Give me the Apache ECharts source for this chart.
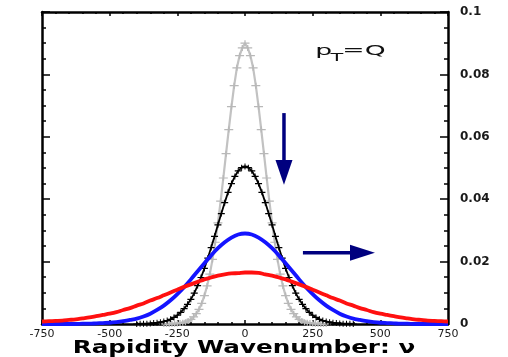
<!DOCTYPE html>
<html>
<head>
<meta charset="utf-8">
<script src="https://cdn.jsdelivr.net/npm/echarts@6/dist/echarts.min.js"></script>
<style>
html,body{margin:0;padding:0;background:#fff;}
#c{width:508px;height:357px;}
</style>
</head>
<body>
<div id="c"></div>
<script>
// ---- data ----
const grayNu = [-300,-290,-280,-270,-260,-250,-240,-230,-220,-210,-200,-190,-180,-170,-160,-150,-140,-130,-120,-110,-100,-90,-80,-70,-60,-50,-40,-30,-20,-10,
  0,10,20,30,40,50,60,70,80,90,100,110,120,130,140,150,160,170,180,190,200,210,220,230,240,250,260,270,280,290,300];
const grayVal = [0,0,0,0.0001,0.0001,0.0002,0.0003,0.0004,0.0006,0.0010,0.0015,0.0023,0.0033,0.0047,0.0066,0.0091,0.0122,0.0160,0.0207,0.0262,0.0324,0.0394,0.0468,0.0546,0.0623,0.0697,0.0764,0.0821,0.0860,0.0885,
  0.0900,0.0885,0.0860,0.0821,0.0764,0.0697,0.0623,0.0546,0.0468,0.0394,0.0324,0.0262,0.0207,0.0160,0.0122,0.0091,0.0066,0.0047,0.0033,0.0023,0.0015,0.0010,0.0006,0.0004,0.0003,0.0002,0.0001,0.0001,0,0,0];

const blackNu = [-400,-387.5,-375,-362.5,-350,-337.5,-325,-312.5,-300,-287.5,-275,-262.5,-250,-237.5,-225,-212.5,-200,-187.5,-175,-162.5,-150,-137.5,-125,-112.5,-100,-87.5,-75,-62.5,-50,-37.5,-25,-12.5,
  0,12.5,25,37.5,50,62.5,75,87.5,100,112.5,125,137.5,150,162.5,175,187.5,200,212.5,225,237.5,250,262.5,275,287.5,300,312.5,325,337.5,350,362.5,375,387.5,400];
const blackVal = [0,0.0001,0.0001,0.0001,0.0002,0.0003,0.0004,0.0006,0.0008,0.0011,0.0015,0.0021,0.0028,0.0037,0.0049,0.0063,0.0079,0.0099,0.0123,0.0149,0.0178,0.0211,0.0245,0.0281,0.0318,0.0354,0.0389,0.0422,0.0450,0.0473,0.0491,0.0501,
  0.0505,0.0501,0.0491,0.0473,0.0450,0.0422,0.0389,0.0354,0.0318,0.0281,0.0245,0.0211,0.0178,0.0149,0.0123,0.0099,0.0079,0.0063,0.0049,0.0037,0.0028,0.0021,0.0015,0.0011,0.0008,0.0006,0.0004,0.0003,0.0002,0.0001,0.0001,0.0001,0];

const nu = [-750,-725,-700,-675,-650,-625,-600,-575,-550,-525,-500,-475,-450,-425,-400,-375,-350,-325,-300,-275,-250,-225,-200,-175,-150,-125,-100,-75,-50,-25,
  0,25,50,75,100,125,150,175,200,225,250,275,300,325,350,375,400,425,450,475,500,525,550,575,600,625,650,675,700,725,750];
const blueVal = [0,0,0,0,0,0,0.0001,0.0001,0.0002,0.0003,0.0004,0.0006,0.0009,0.0013,0.0017,0.0024,0.0033,0.0045,0.0059,0.0076,0.0096,0.0118,0.0143,0.0169,0.0195,0.0220,0.0243,0.0262,0.0277,0.0287,
  0.0290,0.0287,0.0277,0.0262,0.0243,0.0220,0.0195,0.0169,0.0143,0.0118,0.0096,0.0076,0.0059,0.0045,0.0033,0.0024,0.0017,0.0013,0.0009,0.0006,0.0004,0.0003,0.0002,0.0001,0.0001,0,0,0,0,0,0];
const redVal = [0.0008,0.0009,0.0010,0.0011,0.0013,0.0015,0.0018,0.0021,0.0025,0.0029,0.0033,0.0038,0.0045,0.0051,0.0059,0.0066,0.0075,0.0083,0.0092,0.0101,0.0110,0.0119,0.0127,0.0135,0.0143,0.0149,0.0155,0.0159,0.0162,0.0163,
  0.0165,0.0165,0.0164,0.0159,0.0155,0.0149,0.0143,0.0135,0.0127,0.0119,0.0110,0.0101,0.0092,0.0083,0.0075,0.0066,0.0059,0.0051,0.0045,0.0038,0.0033,0.0029,0.0025,0.0021,0.0018,0.0015,0.0013,0.0011,0.0010,0.0009,0.0008];

const xTicks = {min: -750, max: 750, interval: 250};
const yTicks = {min: 0, max: 0.1, interval: 0.02};
const axisTitle = 'Rapidity Wavenumber: \u03bd';

// annotation anchors in data coordinates
const arrowDown = {nu: 144, from: 0.0676, headStart: 0.0526, tip: 0.0446};
const arrowRight = {y: 0.0228, from: 214, headStart: 388, tip: 480};
const ptLabel = {nu: 260, y: 0.0852};

const zip = (xs, ys) => xs.map((x, i) => [x, ys[i]]);
const plus = 'path://M0,2H3V0H4V2H7V3H4V5H3V3H0Z';
const FONT = 'DejaVu Sans';

const chart = echarts.init(document.getElementById('c'), null, {renderer: 'canvas'});

const xCommon = {
  type: 'value', min: xTicks.min, max: xTicks.max, interval: xTicks.interval,
  axisLine: {show: true, onZero: false, lineStyle: {color: '#000', width: 2.5}},
  axisTick: {show: true, inside: true, length: 4, lineStyle: {color: '#000', width: 1.5}},
  minorTick: {show: true, splitNumber: 5, length: 2, lineStyle: {color: '#000', width: 1.5}},
  splitLine: {show: false}
};
const yCommon = {
  type: 'value', min: yTicks.min, max: yTicks.max, interval: yTicks.interval,
  axisLine: {show: true, onZero: false, lineStyle: {color: '#000', width: 2.5}},
  axisTick: {show: true, inside: true, length: 8, lineStyle: {color: '#000', width: 1.5}},
  minorTick: {show: true, splitNumber: 4, length: 4, lineStyle: {color: '#000', width: 1.5}},
  splitLine: {show: false}
};

chart.setOption({
  animation: false,
  backgroundColor: '#fff',
  grid: {left: 42, right: 60, top: 12, bottom: 33, containLabel: false},
  xAxis: [
    Object.assign({}, xCommon, {position: 'bottom',
      axisLabel: {show: true, margin: 5, fontFamily: FONT, fontSize: 11, color: '#1a1a1a'}}),
    Object.assign({}, xCommon, {position: 'top', axisLabel: {show: false}})
  ],
  yAxis: [
    Object.assign({}, yCommon, {position: 'right',
      axisLabel: {show: true, margin: 12, fontFamily: FONT, fontSize: 12, fontWeight: 'bold', color: '#1a1a1a'}}),
    Object.assign({}, yCommon, {position: 'left', axisLabel: {show: false}})
  ],
  series: [
    {type: 'line', name: 'gray', data: zip(grayNu, grayVal), xAxisIndex: 0, yAxisIndex: 0,
      lineStyle: {color: '#c2c2c2', width: 2.2}, itemStyle: {color: '#b8b8b8'},
      symbol: plus, symbolSize: [9, 6], showSymbol: true, z: 2},
    {type: 'line', name: 'black', data: zip(blackNu, blackVal), xAxisIndex: 0, yAxisIndex: 0,
      lineStyle: {color: '#000', width: 1.8}, itemStyle: {color: '#000'},
      symbol: plus, symbolSize: [7, 6], showSymbol: true, z: 3},
    {type: 'line', name: 'blue', data: zip(nu, blueVal), xAxisIndex: 0, yAxisIndex: 0, smooth: 0.3,
      lineStyle: {color: '#1414ff', width: 3.8}, showSymbol: false, z: 4},
    {type: 'line', name: 'red', data: zip(nu, redVal), xAxisIndex: 0, yAxisIndex: 0, smooth: 0.3,
      lineStyle: {color: '#ff1010', width: 3.8}, showSymbol: false, z: 5}
  ]
});

function px(x, y) { return chart.convertToPixel({xAxisIndex: 0, yAxisIndex: 0}, [x, y]); }

const navy = '#00007f';
const d0 = px(arrowDown.nu, arrowDown.from), d1 = px(arrowDown.nu, arrowDown.headStart), d2 = px(arrowDown.nu, arrowDown.tip);
const r0 = px(arrowRight.from, arrowRight.y), r1 = px(arrowRight.headStart, arrowRight.y), r2 = px(arrowRight.tip, arrowRight.y);
const lp = px(ptLabel.nu, ptLabel.y);
const gridRect = chart.getModel().getComponent('grid', 0).coordinateSystem.getRect();

chart.setOption({
  graphic: [
    {type: 'line', shape: {x1: d0[0], y1: d0[1], x2: d1[0], y2: d1[1] + 1}, style: {stroke: navy, lineWidth: 3.5}, z: 10},
    {type: 'polygon', shape: {points: [[d1[0] - 8.5, d1[1]], [d1[0] + 8.5, d1[1]], [d2[0], d2[1]]]}, style: {fill: navy}, z: 10},
    {type: 'line', shape: {x1: r0[0], y1: r0[1], x2: r1[0] + 1, y2: r1[1]}, style: {stroke: navy, lineWidth: 3.5}, z: 10},
    {type: 'polygon', shape: {points: [[r1[0], r1[1] - 8], [r1[0], r1[1] + 8], [r2[0], r2[1]]]}, style: {fill: navy}, z: 10},
    {type: 'group', x: lp[0], y: lp[1], scaleX: 1.9, z: 10, children: [
      {type: 'text', x: 0, y: 0, style: {text: 'p', fontFamily: FONT, fontSize: 14, fill: '#111', textVerticalAlign: 'bottom'}},
      {type: 'text', x: 7.9, y: 5, style: {text: 'T', fontFamily: FONT, fontSize: 11, fill: '#111', textVerticalAlign: 'bottom'}},
      {type: 'text', x: 14.2, y: 0, style: {text: '=Q', fontFamily: FONT, fontSize: 14, fill: '#111', textVerticalAlign: 'bottom'}}
    ]},
    {type: 'group', x: gridRect.x + gridRect.width / 2 - 1, y: 348.5, scaleX: 1.45, z: 10, children: [
      {type: 'text', x: 0, y: 0, style: {text: axisTitle, fontFamily: FONT, fontSize: 17, fontWeight: 'bold', fill: '#000', textAlign: 'center', textVerticalAlign: 'middle'}}
    ]}
  ]
});
</script>
</body>
</html>
